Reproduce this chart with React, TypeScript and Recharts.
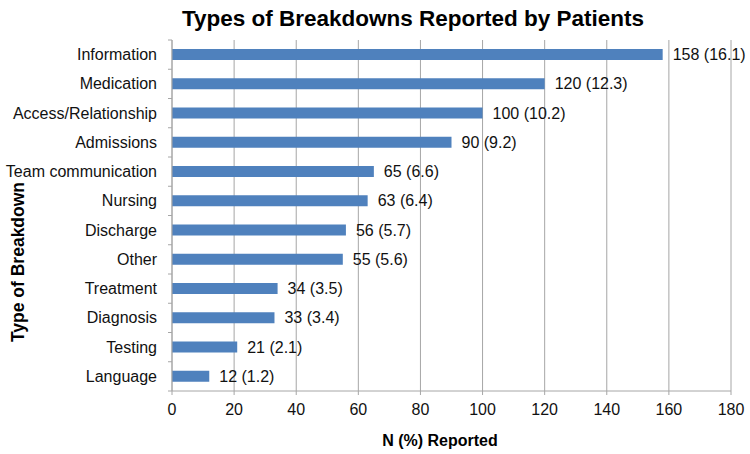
import { BarChart, Bar, XAxis, YAxis, CartesianGrid, LabelList } from 'recharts';

const categories = [
  'Information', 'Medication', 'Access/Relationship', 'Admissions', 'Team communication',
  'Nursing', 'Discharge', 'Other', 'Treatment', 'Diagnosis', 'Testing', 'Language',
];
const counts = [158, 120, 100, 90, 65, 63, 56, 55, 34, 33, 21, 12];
const percents = ['16.1', '12.3', '10.2', '9.2', '6.6', '6.4', '5.7', '5.6', '3.5', '3.4', '2.1', '1.2'];
const xTicks = [0, 20, 40, 60, 80, 100, 120, 140, 160, 180];

const data = categories.map((name, i) => ({ name, count: counts[i], pct: percents[i] }));

const W = 750;
const H = 454;
const X_H = 30;
const M = { top: 40, right: 19, bottom: 63 - X_H, left: 0 };
const Y_W = 172;
const BAND = (H - M.top - M.bottom - X_H) / categories.length;
const GRID = '#a6a6a6';
const FONT = '"Liberation Sans", Arial, sans-serif';

const CategoryTick = (props: any) => {
  const { y, payload, index } = props;
  const ax = Y_W;
  return (
    <g>
      <line x1={ax - 4} x2={ax} y1={y - BAND / 2} y2={y - BAND / 2} stroke={GRID} />
      {index === categories.length - 1 && (
        <line x1={ax - 4} x2={ax} y1={y + BAND / 2} y2={y + BAND / 2} stroke={GRID} />
      )}
      <text x={ax - 15} y={y} dy={5.5} textAnchor="end" fontSize={16} fill="#111" fontFamily={FONT}>
        {payload.value}
      </text>
    </g>
  );
};

export default function App() {
  return (
    <div style={{ position: 'absolute', left: 0, top: 0, width: W, height: H, background: '#fff' }}>
      <BarChart width={W} height={H} data={data} layout="vertical" margin={M}>
        <CartesianGrid horizontal={false} stroke={GRID} />
        <XAxis
          type="number"
          domain={[0, 180]}
          ticks={xTicks}
          height={X_H}
          stroke={GRID}
          tickSize={4}
          tickMargin={9}
          tick={{ fontSize: 16, fill: '#111', fontFamily: FONT }}
        />
        <YAxis
          type="category"
          dataKey="name"
          width={Y_W}
          stroke={GRID}
          tickLine={false}
          interval={0}
          tick={<CategoryTick />}
        />
        <Bar dataKey="count" fill="#4f81bd" barSize={11} isAnimationActive={false}>
          <LabelList
            dataKey="count"
            position="right"
            content={(p: any) => (
              <text x={p.x + p.width + 10} y={p.y + p.height / 2} dy={5.5} fontSize={16} fill="#111" fontFamily={FONT}>
                {`${p.value} (${data[p.index].pct})`}
              </text>
            )}
          />
        </Bar>
        <text x={413} y={26} textAnchor="middle" fontSize={22.5} fontWeight="bold" fill="#000" fontFamily={FONT}>
          Types of Breakdowns Reported by Patients
        </text>
        <text x={440} y={446} textAnchor="middle" fontSize={16} fontWeight="bold" fill="#000" fontFamily={FONT}>
          N (%) Reported
        </text>
        <text
          x={0}
          y={0}
          transform="translate(24, 262) rotate(-90)"
          textAnchor="middle"
          fontSize={17.5}
          fontWeight="bold"
          fill="#000"
          fontFamily={FONT}
        >
          Type of Breakdown
        </text>
      </BarChart>
    </div>
  );
}
